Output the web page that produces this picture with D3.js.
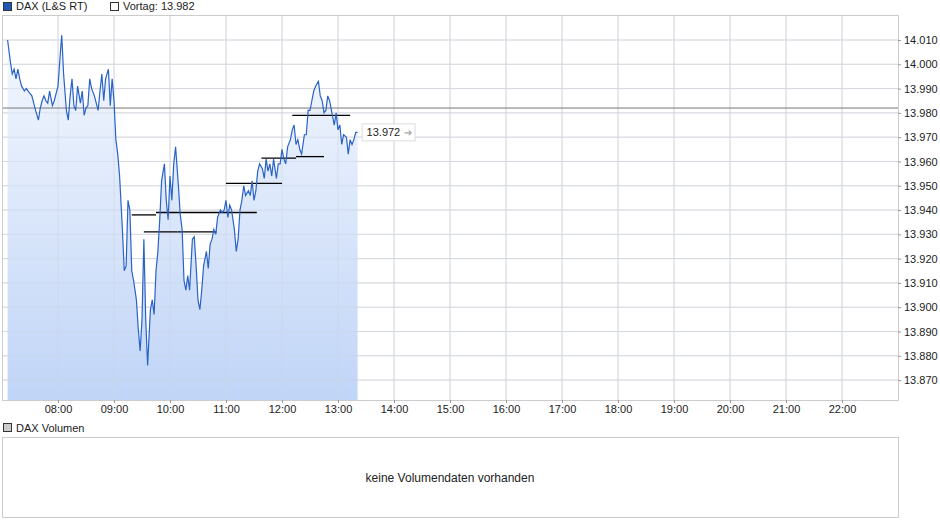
<!DOCTYPE html><html><head><meta charset="utf-8">
<script src="https://cdn.jsdelivr.net/npm/d3@7"></script>
<style>body{margin:0;background:#fff}svg{font-family:"Liberation Sans",Arial,sans-serif}</style></head><body>
<svg id="c" width="940" height="526"></svg>
<script>
// minutes since midnight
const times=[];
const timeGroups=[426,441,456,471,486,501,516,531,546,561,576,591,606,621,636,651,666,681,696,711,726,741,756,771,786];
const groupOffsets=[0,3,5,7,9,11,13];
timeGroups.forEach(g=>groupOffsets.forEach(o=>times.push(g+o)));
times.push(801);
const prices=[14.010,14.001,13.996,13.998,13.994,13.998,13.994,13.991,13.989,13.990,13.989,13.988,13.987,13.984,13.981,13.977,13.982,13.985,13.987,13.985,13.984,13.989,13.983,13.985,13.988,13.991,14.002,14.012,13.996,13.981,13.977,13.987,13.994,13.983,13.981,13.991,13.984,13.989,13.979,13.982,13.983,13.994,13.990,13.987,13.984,13.981,13.989,13.996,13.985,13.994,13.998,13.983,13.994,13.985,13.969,13.963,13.954,13.932,13.915,13.917,13.944,13.940,13.915,13.911,13.903,13.891,13.882,13.895,13.928,13.895,13.876,13.899,13.903,13.897,13.915,13.923,13.936,13.952,13.959,13.944,13.936,13.954,13.944,13.959,13.966,13.950,13.938,13.932,13.911,13.907,13.913,13.907,13.928,13.929,13.917,13.903,13.899,13.907,13.917,13.923,13.916,13.926,13.928,13.932,13.930,13.937,13.940,13.939,13.940,13.944,13.937,13.942,13.940,13.932,13.923,13.928,13.940,13.944,13.950,13.946,13.948,13.946,13.952,13.944,13.948,13.956,13.959,13.957,13.953,13.961,13.956,13.959,13.954,13.961,13.953,13.959,13.959,13.965,13.961,13.959,13.966,13.969,13.973,13.975,13.967,13.969,13.965,13.963,13.971,13.971,13.981,13.981,13.985,13.989,13.991,13.993,13.987,13.985,13.980,13.981,13.987,13.985,13.979,13.975,13.980,13.973,13.975,13.967,13.971,13.970,13.963,13.969,13.967,13.969,13.972,13.972];
// horizontal marker segments: [startMin, endMin, value]
const segments=[[559,585,13.938],[585,655,13.939],[655,693,13.939],[572,608,13.931],[608,650,13.931],[660,720,13.951],[698,735,13.9614],[735,765,13.962],[731,793,13.979]];
const prevClose=13.982, lastPrice=13.972;
const yTicks=[13.870,13.880,13.890,13.900,13.910,13.920,13.930,13.940,13.950,13.960,13.970,13.980,13.990,14.000,14.010];
const xTicks=["08:00","09:00","10:00","11:00","12:00","13:00","14:00","15:00","16:00","17:00","18:00","19:00","20:00","21:00","22:00"];

const svg=d3.select("#c");
const L=2,R=898,T=15,B=400;
const x=d3.scaleLinear().domain([420,1380]).range([L,R]);
const y=d3.scaleLinear().domain([13.8618,14.0203]).range([B,T]);
const toMin=s=>+s.slice(0,2)*60+ +s.slice(3);
const fmt=v=>d3.format(".3f")(v).replace(".",".");
const grad=svg.append("defs").append("linearGradient").attr("id","g").attr("x1",0).attr("x2",0).attr("y1",0).attr("y2",1);
grad.append("stop").attr("offset","0%").attr("stop-color","#f3f7fe");
grad.append("stop").attr("offset","100%").attr("stop-color","#b9d0f6");
// grid
svg.append("g").selectAll("line").data(yTicks).join("line").attr("x1",L).attr("x2",R).attr("y1",d=>y(d)).attr("y2",d=>y(d)).attr("stroke","#dcdcdc");
svg.append("g").selectAll("line").data(xTicks).join("line").attr("x1",d=>x(toMin(d))).attr("x2",d=>x(toMin(d))).attr("y1",T).attr("y2",B).attr("stroke","#dcdcdc");
const data=times.map((t,i)=>[t,prices[i]]);
svg.append("path").datum(data).attr("d",d3.area().x(d=>x(d[0])).y0(B).y1(d=>y(d[1]))).attr("fill","url(#g)").attr("opacity",0.9);
// re-draw grid lightly over area
svg.append("g").selectAll("line").data(yTicks).join("line").attr("x1",L).attr("x2",R).attr("y1",d=>y(d)).attr("y2",d=>y(d)).attr("stroke","#d0d8e4").attr("opacity",0.5);
svg.append("g").selectAll("line").data(xTicks).join("line").attr("x1",d=>x(toMin(d))).attr("x2",d=>x(toMin(d))).attr("y1",T).attr("y2",B).attr("stroke","#d0d8e4").attr("opacity",0.5);
svg.append("line").attr("x1",L).attr("x2",R).attr("y1",y(prevClose)).attr("y2",y(prevClose)).attr("stroke","#777");
svg.append("g").selectAll("line").data(segments).join("line").attr("x1",d=>x(d[0])).attr("x2",d=>x(d[1])).attr("y1",d=>y(d[2])).attr("y2",d=>y(d[2])).attr("stroke","#000").attr("stroke-width",1.3);
svg.append("path").datum(data).attr("d",d3.line().x(d=>x(d[0])).y(d=>y(d[1]))).attr("fill","none").attr("stroke","#2a63c6").attr("stroke-width",1.2);
svg.append("rect").attr("x",L+0.5).attr("y",T+0.5).attr("width",R-L).attr("height",B-T).attr("fill","none").attr("stroke","#ccc");
// axes
const ya=svg.append("g").attr("transform",`translate(${R},0)`).call(d3.axisRight(y).tickValues(yTicks).tickFormat(fmt).tickSize(3));
ya.select(".domain").remove();ya.selectAll("line").attr("stroke","#999");ya.selectAll("text").attr("font-size",11).attr("fill","#222").attr("x",6).attr("font-family","Liberation Sans, Arial");
const xa=svg.append("g").attr("transform",`translate(0,${B})`).call(d3.axisBottom(x).tickValues(xTicks.map(toMin)).tickFormat((d,i)=>xTicks[i]).tickSize(3));
xa.select(".domain").remove();xa.selectAll("line").attr("stroke","#999");xa.selectAll("text").attr("font-size",11).attr("fill","#222").attr("y",5).attr("font-family","Liberation Sans, Arial");
// last price label
const ly=y(lastPrice), lx=x(times[times.length-1])+4;
svg.append("rect").attr("x",lx+0.5).attr("y",ly-8.5).attr("width",53).attr("height",17).attr("fill","#fff").attr("stroke","#ddd");
svg.append("text").attr("x",lx+5).attr("y",ly+4).attr("font-size",11).attr("fill","#222").text(fmt(lastPrice));
svg.append("text").attr("x",lx+42).attr("y",ly+4).attr("font-size",10).attr("fill","#aaa").text("➔");
// legend
svg.append("rect").attr("x",3.5).attr("y",2.5).attr("width",8).attr("height",8).attr("fill","#1f58b8").attr("stroke","#333");
svg.append("text").attr("x",16).attr("y",10).attr("font-size",11).attr("fill","#222").text("DAX (L&S RT)");
svg.append("rect").attr("x",110.5).attr("y",2.5).attr("width",8).attr("height",8).attr("fill","#fff").attr("stroke","#333");
svg.append("text").attr("x",123).attr("y",10).attr("font-size",11).attr("fill","#222").text("Vortag: "+fmt(prevClose));
// volume panel
svg.append("rect").attr("x",3.5).attr("y",423.5).attr("width",8).attr("height",8).attr("fill","#ccc").attr("stroke","#333");
svg.append("text").attr("x",16).attr("y",432).attr("font-size",11).attr("fill","#222").text("DAX Volumen");
svg.append("rect").attr("x",L+0.5).attr("y",437.5).attr("width",R-L).attr("height",80).attr("fill","#fff").attr("stroke","#ccc");
svg.append("text").attr("x",(L+R)/2).attr("y",482).attr("text-anchor","middle").attr("font-size",12).attr("fill","#222").text("keine Volumendaten vorhanden");
</script></body></html>
